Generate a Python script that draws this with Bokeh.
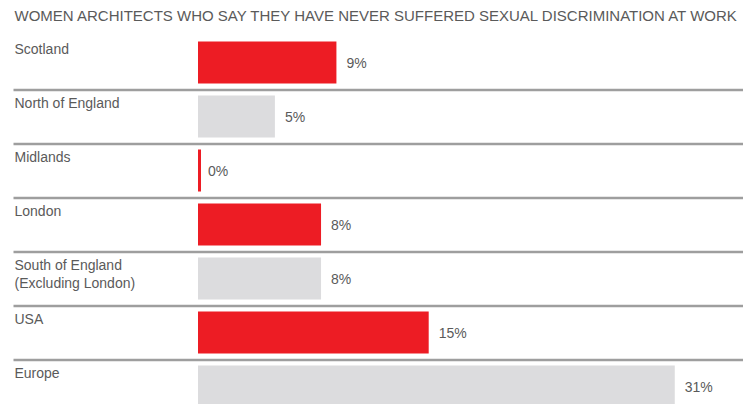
from bokeh.plotting import figure
from bokeh.models import ColumnDataSource, Range1d, Label
from bokeh.core.properties import value
from bokeh.embed import file_html
from bokeh.resources import INLINE

# ---- data ----
title_text = "WOMEN ARCHITECTS WHO SAY THEY HAVE NEVER SUFFERED SEXUAL DISCRIMINATION AT WORK"
regions = ["Scotland", "North of England", "Midlands", "London",
           "South of England\n(Excluding London)", "USA", "Europe"]
percent = [9, 5, 0, 8, 8, 15, 31]

# ---- style ----
RED = "#ED1C24"
GREY = "#DCDCDE"
highlight = [True, False, True, True, False, True, False]
colors = [RED if h else GREY for h in highlight]
TXT = "#5a5a5a"
FONT = "Liberation Sans"

W, H = 743, 404
PX_PER_UNIT = 15.38          # pixels per percentage point
ZERO_PX = 197.5              # x pixel of 0%
ROW_PX = 54.0                # row pitch
FIRST_CENTER_PX = 62.0       # y pixel of first bar centre

x0 = -ZERO_PX / PX_PER_UNIT
x1 = (W - ZERO_PX) / PX_PER_UNIT
ytop = -FIRST_CENTER_PX / ROW_PX
ybot = (H - FIRST_CENTER_PX) / ROW_PX

p = figure(width=W, height=H, output_backend="svg", toolbar_location=None,
           x_range=Range1d(x0, x1), y_range=Range1d(ybot, ytop),
           min_border=0, min_border_left=0, min_border_right=0,
           min_border_top=0, min_border_bottom=0)
p.axis.visible = False
p.grid.visible = False
p.outline_line_color = None
p.background_fill_color = "white"
p.border_fill_color = "white"

n = len(regions)
idx = list(range(n))
src = ColumnDataSource(dict(
    y=idx,
    v=percent,
    color=colors,
    region=regions,
    ylab=[i - 22.0 / ROW_PX for i in idx],
    vlab=[f"{v}%" for v in percent],
    xv=[v + 10.0 / PX_PER_UNIT for v in percent],
    xl=[x0 + 14.0 / PX_PER_UNIT] * n,
))

p.hbar(y="y", left=0, right="v", height=42.0 / ROW_PX, fill_color="color",
       line_color=None, source=src)

# zero-valued bars drawn as a thin stroke
zero = [i for i, v in enumerate(percent) if v == 0]
p.segment(x0=[1.5 / PX_PER_UNIT] * len(zero), x1=[1.5 / PX_PER_UNIT] * len(zero),
          y0=[i - 21.0 / ROW_PX for i in zero], y1=[i + 21.0 / ROW_PX for i in zero],
          line_color=[colors[i] for i in zero], line_width=3)

# separators below each row except the last
sep_y = [i + 27.5 / ROW_PX for i in idx[:-1]]
p.segment(x0=[x0 + 13.0 / PX_PER_UNIT] * len(sep_y), x1=[x1] * len(sep_y),
          y0=sep_y, y1=sep_y, line_color="#9e9e9e", line_width=2.5)

p.text(x="xl", y="ylab", text="region", source=src, text_font=value(FONT),
       text_font_size="14px", text_color=TXT, text_baseline="top",
       text_align="left", text_line_height=1.15)
p.text(x="xv", y="y", text="vlab", source=src, text_font=value(FONT),
       text_font_size="14px", text_color=TXT, text_baseline="middle",
       text_align="left")

p.add_layout(Label(x=14, y=H - 15, x_units="screen", y_units="screen",
                   text=title_text, text_font=FONT, text_font_size="15px",
                   text_color=TXT, text_baseline="middle", text_align="left"))

open("out.html", "w").write(file_html(p, INLINE))
